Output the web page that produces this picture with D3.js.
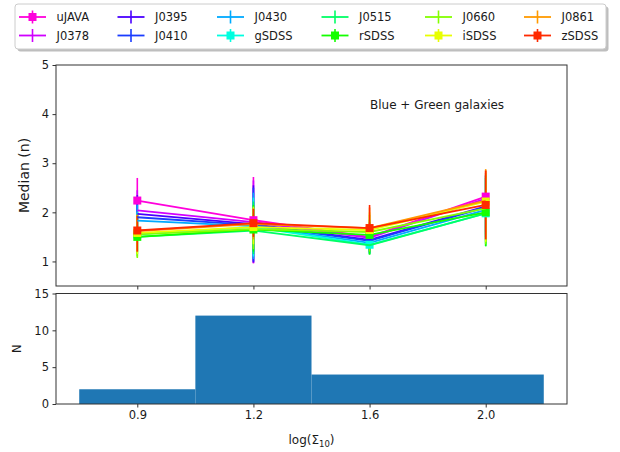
<!DOCTYPE html>
<html><head><meta charset="utf-8">
<script src="https://cdn.jsdelivr.net/npm/d3@7"></script>
<style>
body{margin:0;background:#fff}
svg text{font-family:"DejaVu Sans",sans-serif;fill:#1a1a1a}
</style>
</head><body>
<svg id="chart" width="620" height="452"></svg>
<script>
// ---------- data ----------
const xPositions = [0, 1, 2, 3];
const xTickLabels = ["0.9", "1.2", "1.6", "2.0"];
const seriesNames = ["uJAVA","J0378","J0395","J0410","J0430","gSDSS","J0515","rSDSS","J0660","iSDSS","J0861","zSDSS"];
const seriesColors = ["#ff00dc","#d000ff","#4a00ff","#1a3cff","#00aaff","#00ffe0","#00ff66","#14ff00","#84ff00","#e8ff00","#ff9a00","#ff2a00"];
const seriesHasMarker = [true,false,false,false,false,true,false,true,false,true,false,true];
const medians = [
  [2.24, 1.84, 1.50, 2.32],
  [2.04, 1.80, 1.48, 2.28],
  [1.97, 1.76, 1.44, 2.12],
  [1.90, 1.74, 1.42, 2.10],
  [1.83, 1.72, 1.38, 2.05],
  [1.55, 1.70, 1.34, 1.98],
  [1.50, 1.63, 1.33, 1.98],
  [1.50, 1.65, 1.54, 2.00],
  [1.55, 1.66, 1.60, 2.08],
  [1.58, 1.70, 1.64, 2.22],
  [1.62, 1.76, 1.68, 2.24],
  [1.63, 1.78, 1.68, 2.15]
];
const lowerBounds = [
  [1.85, 0.96, 1.20, 1.60],
  [1.70, 0.97, 1.20, 1.55],
  [1.65, 0.98, 1.18, 1.50],
  [1.60, 1.00, 1.18, 1.45],
  [1.50, 1.05, 1.15, 1.40],
  [1.20, 1.10, 1.15, 1.35],
  [1.15, 1.15, 1.14, 1.31],
  [1.10, 1.20, 1.14, 1.31],
  [1.07, 1.25, 1.20, 1.35],
  [1.15, 1.35, 1.30, 1.40],
  [1.20, 1.45, 1.45, 1.45],
  [1.20, 1.50, 1.55, 1.45]
];
const upperBounds = [
  [2.70, 2.72, 1.80, 2.85],
  [2.45, 2.65, 1.80, 2.80],
  [2.35, 2.55, 1.75, 2.75],
  [2.25, 2.50, 1.75, 2.75],
  [2.15, 2.40, 1.70, 2.70],
  [2.00, 2.30, 1.65, 2.70],
  [1.95, 2.22, 1.70, 2.70],
  [1.95, 2.15, 1.85, 2.75],
  [1.95, 2.12, 1.95, 2.80],
  [1.95, 2.10, 2.00, 2.85],
  [1.95, 2.08, 2.10, 2.88],
  [1.93, 2.07, 2.15, 2.85]
];
const binEdges = [-0.5, 0.5, 1.5, 3.5];
const binCounts = [2, 12, 4];
const topYTicks = [1, 2, 3, 4, 5];
const botYTicks = [0, 5, 10, 15];

// ---------- layout ----------
const svg = d3.select("#chart");
const L = 56, R = 567;
const topT = 65, topB = 286, botT = 293.5, botB = 404;
const x = d3.scaleLinear().domain([-0.7, 3.7]).range([L, R]);
const yTop = d3.scaleLinear().domain([0.5, 5]).range([topB, topT]);
const yBot = d3.scaleLinear().domain([0, 15]).range([botB, botT]);
const spine = "#333";

function styleAxis(g){
  g.select(".domain").remove();
  g.selectAll(".tick line").attr("stroke", spine).attr("stroke-width", 1);
  g.selectAll(".tick text").style("font-size","11.5px").style("font-family","DejaVu Sans, sans-serif").attr("fill","#1a1a1a");
}

// ---------- top panel ----------
const topG = svg.append("g");
topG.append("g").attr("transform",`translate(${L},0)`)
  .call(d3.axisLeft(yTop).tickValues(topYTicks).tickFormat(d3.format("d")).tickSize(3.5).tickPadding(3.5))
  .call(styleAxis);
topG.append("g").attr("transform",`translate(0,${topB})`)
  .call(d3.axisBottom(x).tickValues(xPositions).tickFormat("").tickSize(3.5))
  .call(styleAxis);

svg.append("clipPath").attr("id","clipTop").append("rect")
  .attr("x",L).attr("y",topT).attr("width",R-L).attr("height",topB-topT);
const plot = topG.append("g").attr("clip-path","url(#clipTop)");

// error bars first (matplotlib draws bars beneath data lines)
seriesNames.forEach((name, i) => {
  plot.append("g").selectAll("line").data(xPositions).join("line")
    .attr("x1", d => x(d)).attr("x2", d => x(d))
    .attr("y1", (d, j) => yTop(lowerBounds[i][j]))
    .attr("y2", (d, j) => yTop(upperBounds[i][j]))
    .attr("stroke", seriesColors[i]).attr("stroke-width", 1.6);
});
const line = d3.line().x(d => x(d[0])).y(d => yTop(d[1]));
seriesNames.forEach((name, i) => {
  const pts = xPositions.map((p, j) => [p, medians[i][j]]);
  plot.append("path").datum(pts).attr("d", line)
    .attr("fill","none").attr("stroke", seriesColors[i]).attr("stroke-width", 1.8);
  if (seriesHasMarker[i]) {
    plot.append("g").selectAll("rect").data(pts).join("rect")
      .attr("x", d => x(d[0]) - 4).attr("y", d => yTop(d[1]) - 4)
      .attr("width", 8).attr("height", 8).attr("fill", seriesColors[i]);
  }
});
topG.append("rect").attr("x",L).attr("y",topT).attr("width",R-L).attr("height",topB-topT)
  .attr("fill","none").attr("stroke",spine).attr("stroke-width",1);

topG.append("text").attr("x", 370).attr("y", 109).style("font-size","12px").text("Blue + Green galaxies");
topG.append("text").attr("transform",`translate(29,${(topT+topB)/2}) rotate(-90)`)
  .attr("text-anchor","middle").style("font-size","14px").text("Median (n)");

// ---------- bottom panel ----------
const botG = svg.append("g");
botG.selectAll("rect.bar").data(binCounts).join("rect").attr("class","bar")
  .attr("x", (d, i) => x(binEdges[i]))
  .attr("width", (d, i) => x(binEdges[i+1]) - x(binEdges[i]))
  .attr("y", d => yBot(d)).attr("height", d => yBot(0) - yBot(d))
  .attr("fill", "#1f77b4");
botG.append("g").attr("transform",`translate(${L},0)`)
  .call(d3.axisLeft(yBot).tickValues(botYTicks).tickFormat(d3.format("d")).tickSize(3.5).tickPadding(3.5))
  .call(styleAxis);
botG.append("g").attr("transform",`translate(0,${botB})`)
  .call(d3.axisBottom(x).tickValues(xPositions).tickFormat((d, i) => xTickLabels[i]).tickSize(3.5).tickPadding(3.5))
  .call(styleAxis);
botG.append("rect").attr("x",L).attr("y",botT).attr("width",R-L).attr("height",botB-botT)
  .attr("fill","none").attr("stroke",spine).attr("stroke-width",1);
botG.append("text").attr("transform",`translate(21,${(botT+botB)/2}) rotate(-90)`)
  .attr("text-anchor","middle").style("font-size","11.5px").text("N");
const xl = botG.append("text").attr("x",(L+R)/2).attr("y",444).attr("text-anchor","middle").style("font-size","12px");
xl.append("tspan").text("log(Σ");
xl.append("tspan").attr("dy",3).style("font-size","8.5px").text("10");
xl.append("tspan").attr("dy",-3).text(")");

// ---------- legend ----------
const leg = svg.append("g");
const lx = 15, ly = 4, lw = 591, lh = 45;
leg.append("rect").attr("x",lx+2.5).attr("y",ly+2.5).attr("width",lw).attr("height",lh).attr("rx",3)
  .attr("fill","#888").attr("opacity",0.55);
leg.append("rect").attr("x",lx).attr("y",ly).attr("width",lw).attr("height",lh).attr("rx",3)
  .attr("fill","#fff").attr("stroke","#ccc").attr("stroke-width",1);
const colTextX = [56.5, 155, 254.5, 359, 462.5, 561.5];
const rowY = [17, 35.5];
seriesNames.forEach((name, i) => {
  const col = Math.floor(i / 2), row = i % 2;
  const tx = colTextX[col], cy = rowY[row];
  const hx0 = tx - 37.5, hx1 = tx - 10.5, hc = (hx0 + hx1) / 2;
  const g = leg.append("g");
  g.append("line").attr("x1",hx0).attr("x2",hx1).attr("y1",cy).attr("y2",cy)
    .attr("stroke",seriesColors[i]).attr("stroke-width",1.8);
  g.append("line").attr("x1",hc).attr("x2",hc).attr("y1",cy-6.5).attr("y2",cy+6.5)
    .attr("stroke",seriesColors[i]).attr("stroke-width",1.6);
  if (seriesHasMarker[i]) g.append("rect").attr("x",hc-4).attr("y",cy-4).attr("width",8).attr("height",8).attr("fill",seriesColors[i]);
  g.append("text").attr("x",tx).attr("y",cy+4).style("font-size","11.5px").text(name);
});
</script>
</body></html>
